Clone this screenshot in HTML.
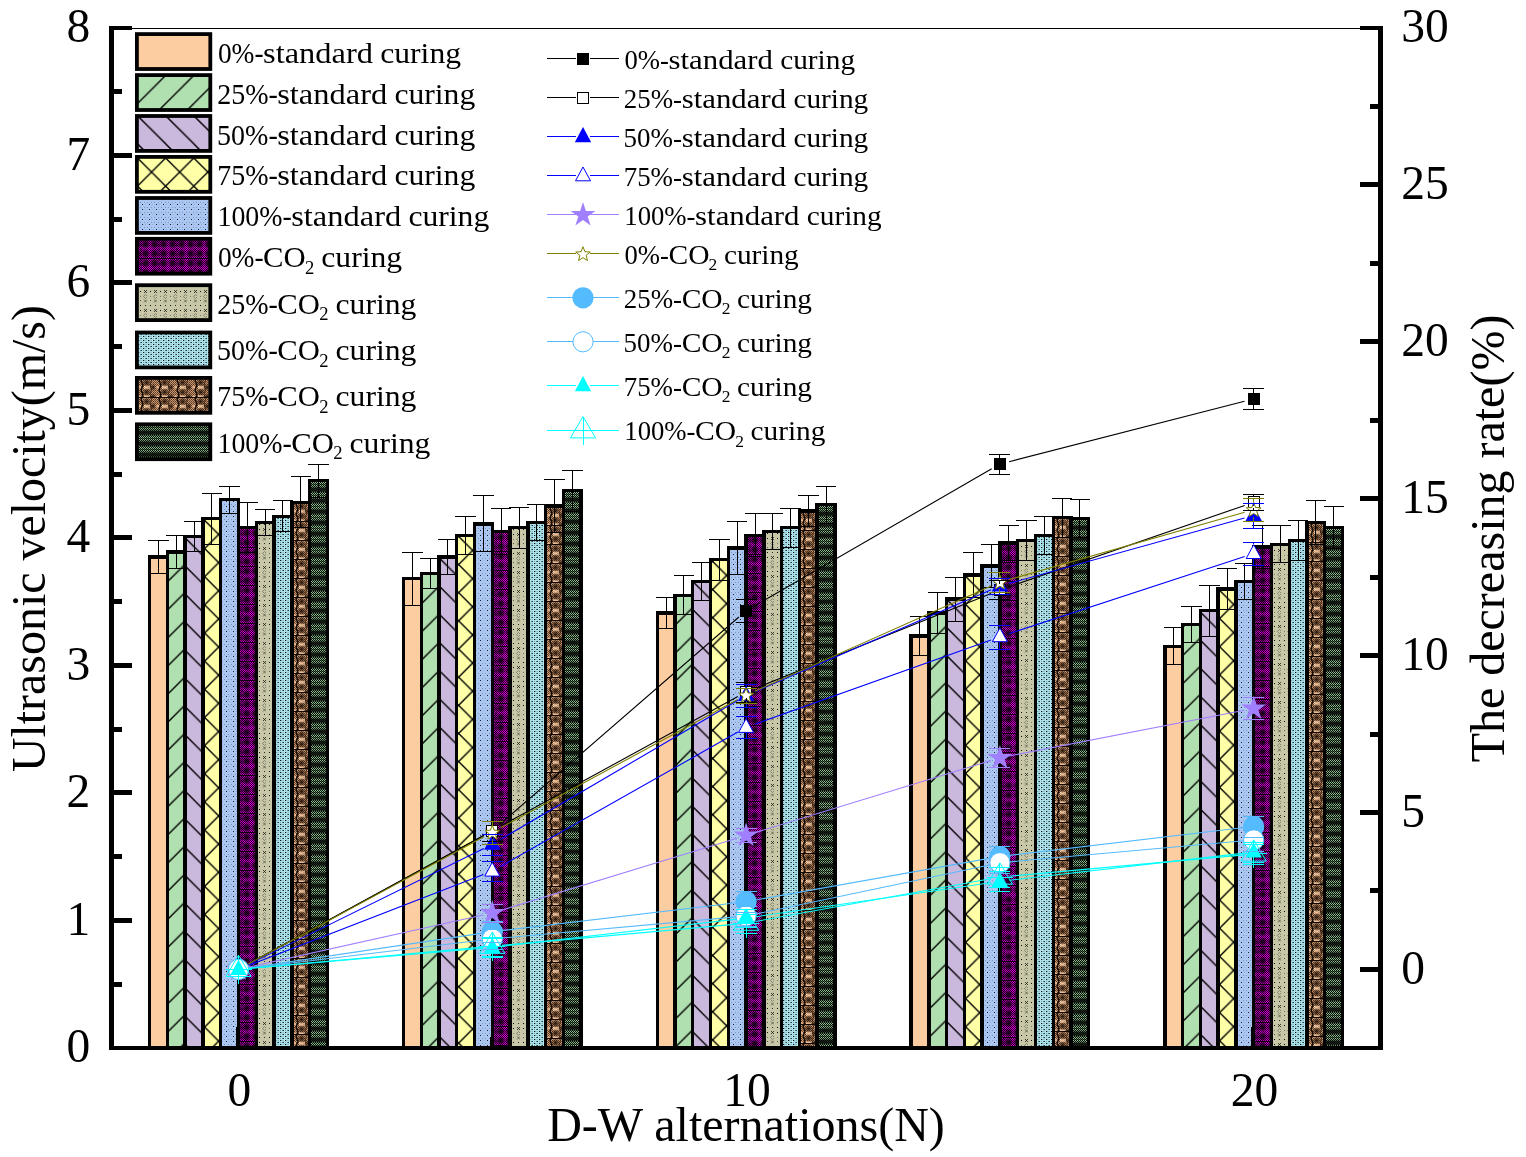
<!DOCTYPE html>
<html lang="en"><head><meta charset="utf-8"><title>Ultrasonic velocity and decreasing rate vs D-W alternations</title>
<style>html,body{margin:0;padding:0;background:#fff}body{width:1526px;height:1157px;overflow:hidden}svg{display:block}text{font-family:'Liberation Serif', 'DejaVu Serif', serif;fill:#000}</style>
</head><body>
<svg width="1526" height="1157" viewBox="0 0 1526 1157">
<defs>
<pattern id="p1" width="28.15" height="28.15" patternUnits="userSpaceOnUse"><rect width="28.15" height="28.15" fill="#B0E0B0"/><path d="M-28.15 2.10L56.30 -82.35M-28.15 30.25L56.30 -54.20M-28.15 58.40L56.30 -26.05M-28.15 86.55L56.30 2.10" stroke="#000" stroke-width="1.4" fill="none"/></pattern>
<pattern id="p2" width="28.15" height="28.15" patternUnits="userSpaceOnUse"><rect width="28.15" height="28.15" fill="#CBB9DD"/><path d="M-28.15 -83.75L56.30 0.70M-28.15 -55.60L56.30 28.85M-28.15 -27.45L56.30 57.00M-28.15 0.70L56.30 85.15" stroke="#000" stroke-width="1.4" fill="none"/></pattern>
<pattern id="p3" width="28.15" height="28.15" patternUnits="userSpaceOnUse"><rect width="28.15" height="28.15" fill="#FFFFA8"/><path d="M-28.15 3.00L56.30 -81.45M-28.15 31.15L56.30 -53.30M-28.15 59.30L56.30 -25.15M-28.15 87.45L56.30 3.00M-28.15 -84.65L56.30 -0.20M-28.15 -56.50L56.30 27.95M-28.15 -28.35L56.30 56.10M-28.15 -0.20L56.30 84.25" stroke="#000" stroke-width="1.4" fill="none"/></pattern>
<pattern id="p1L" width="28.15" height="28.15" patternUnits="userSpaceOnUse"><rect width="28.15" height="28.15" fill="#B0E0B0"/><path d="M-28.15 0.90L56.30 -83.55M-28.15 29.05L56.30 -55.40M-28.15 57.20L56.30 -27.25M-28.15 85.35L56.30 0.90" stroke="#000" stroke-width="1.4" fill="none"/></pattern>
<pattern id="p2L" width="28.15" height="28.15" patternUnits="userSpaceOnUse"><rect width="28.15" height="28.15" fill="#CBB9DD"/><path d="M-28.15 -85.30L56.30 -0.85M-28.15 -57.15L56.30 27.30M-28.15 -29.00L56.30 55.45M-28.15 -0.85L56.30 83.60" stroke="#000" stroke-width="1.4" fill="none"/></pattern>
<pattern id="p3L" width="28.15" height="28.15" patternUnits="userSpaceOnUse"><rect width="28.15" height="28.15" fill="#FFFFA8"/><path d="M-28.15 1.45L56.30 -83.00M-28.15 29.60L56.30 -54.85M-28.15 57.75L56.30 -26.70M-28.15 85.90L56.30 1.45M-28.15 -83.95L56.30 0.50M-28.15 -55.80L56.30 28.65M-28.15 -27.65L56.30 56.80M-28.15 0.50L56.30 84.95" stroke="#000" stroke-width="1.4" fill="none"/></pattern>
<radialGradient id="gm"><stop offset="0" stop-color="#100010" stop-opacity="1"/><stop offset="0.5" stop-color="#100010" stop-opacity="0.7"/><stop offset="1" stop-color="#100010" stop-opacity="0"/></radialGradient>
<radialGradient id="gb"><stop offset="0" stop-color="#1c0e04" stop-opacity="0.95"/><stop offset="0.5" stop-color="#1c0e04" stop-opacity="0.4"/><stop offset="1" stop-color="#1c0e04" stop-opacity="0"/></radialGradient>
<pattern id="cm" width="2" height="2" patternUnits="userSpaceOnUse" shape-rendering="crispEdges"><rect x="0" y="0" width="2" height="2" fill="#CC00CC"/><rect x="0" y="0" width="1" height="1" fill="#380038"/><rect x="1" y="1" width="1" height="1" fill="#380038"/></pattern>
<pattern id="cg" width="2" height="2" patternUnits="userSpaceOnUse" shape-rendering="crispEdges"><rect x="0" y="0" width="2" height="2" fill="#040804"/><rect x="0" y="0" width="1" height="1" fill="#8CC08C"/><rect x="1" y="1" width="1" height="1" fill="#8CC08C"/></pattern>
<pattern id="cb" width="2" height="2" patternUnits="userSpaceOnUse" shape-rendering="crispEdges"><rect x="0" y="0" width="2" height="2" fill="#CC9872"/><rect x="0" y="0" width="1" height="1" fill="#54361f"/><rect x="1" y="1" width="1" height="1" fill="#6e4e36"/></pattern>
<pattern id="p4" width="7" height="10" patternUnits="userSpaceOnUse" shape-rendering="crispEdges"><rect x="0" y="0" width="7" height="10" fill="#ABC7F1"/><rect x="5" y="1" width="1" height="1" fill="#182030"/><rect x="5" y="6" width="1" height="1" fill="#182030"/><rect x="3" y="4" width="1" height="1" fill="#7f97bd"/><rect x="0" y="4" width="1" height="1" fill="#7f97bd"/><rect x="3" y="9" width="1" height="1" fill="#7f97bd"/><rect x="0" y="9" width="1" height="1" fill="#7f97bd"/><rect x="1" y="1" width="1" height="1" fill="#96aed6"/><rect x="1" y="6" width="1" height="1" fill="#96aed6"/></pattern>
<pattern id="p5" width="18" height="19" patternUnits="userSpaceOnUse"><rect x="0" y="0" width="18" height="19" fill="url(#cm)"/><circle cx="8.6" cy="5.2" r="4.8" fill="url(#gm)"/><circle cx="17.6" cy="5.2" r="4.8" fill="url(#gm)"/><circle cx="-0.4" cy="5.2" r="4.8" fill="url(#gm)"/><circle cx="8.6" cy="14.6" r="4.8" fill="url(#gm)"/><circle cx="17.6" cy="14.6" r="4.8" fill="url(#gm)"/><circle cx="-0.4" cy="14.6" r="4.8" fill="url(#gm)"/><path d="M0 0.5H18" stroke="#0c000c" stroke-width="1"/><path d="M4 0V19" stroke="#0c000c" stroke-width="1" stroke-dasharray="3.2 1.5"/></pattern>
<pattern id="p6" width="10" height="19" patternUnits="userSpaceOnUse"><rect x="0" y="0" width="10" height="19" fill="#C8C8A8"/><rect x="3" y="1" width="1" height="1" fill="#0c0c08"/><rect x="8" y="1" width="1" height="1" fill="#2a2a22"/><rect x="3" y="6" width="1" height="1" fill="#0c0c08"/><path d="M7 5l3 3m0-3l-3 3" stroke="#1c1c14" stroke-width="0.8" fill="none"/><rect x="3" y="11" width="1" height="1" fill="#77776a"/><path d="M6.5 11.5l2-2l2 2l-2 2z" stroke="#5a5a4c" stroke-width="0.6" fill="none"/><rect x="3" y="15" width="1" height="1" fill="#55554a"/><path d="M7 14.5l3 3m0-3l-3 3" stroke="#44443a" stroke-width="0.7" fill="none"/></pattern>
<pattern id="p7" width="5" height="4" patternUnits="userSpaceOnUse"><rect x="0" y="0" width="5" height="4" fill="#B4EEF8"/><rect x="1" y="0" width="1.3" height="1" fill="#020a0c"/><rect x="3.5" y="2" width="1.3" height="1" fill="#020a0c"/><rect x="3.6" y="0" width="1" height="1" fill="#6f9aa2"/><rect x="1.1" y="2" width="1" height="1" fill="#6f9aa2"/><rect x="0" y="1" width="5" height="0.5" fill="#9fd2db"/><rect x="0" y="3" width="5" height="0.5" fill="#9fd2db"/></pattern>
<pattern id="p8" width="18" height="19" patternUnits="userSpaceOnUse"><rect x="0" y="0" width="18" height="19" fill="url(#cb)"/><circle cx="9.6" cy="9.3" r="1.9" fill="#EDBE96"/><circle cx="9.6" cy="4.6" r="4.7" fill="url(#gb)"/><circle cx="16" cy="9.3" r="3.8" fill="url(#gb)"/><circle cx="3" cy="9.3" r="1.4" fill="#E8B990"/><rect x="7" y="7.8999999999999995" width="1.1" height="1.1" fill="#FFE0BC"/><rect x="11.6" y="7.8999999999999995" width="1.1" height="1.1" fill="#FFE0BC"/><rect x="7" y="0.1999999999999993" width="1.1" height="1.1" fill="#FFE0BC"/><rect x="11.6" y="0.1999999999999993" width="1.1" height="1.1" fill="#FFE0BC"/><circle cx="9.6" cy="18.8" r="1.9" fill="#EDBE96"/><circle cx="9.6" cy="14.1" r="4.7" fill="url(#gb)"/><circle cx="16" cy="18.8" r="3.8" fill="url(#gb)"/><circle cx="3" cy="18.8" r="1.4" fill="#E8B990"/><rect x="7" y="17.4" width="1.1" height="1.1" fill="#FFE0BC"/><rect x="11.6" y="17.4" width="1.1" height="1.1" fill="#FFE0BC"/><rect x="7" y="9.7" width="1.1" height="1.1" fill="#FFE0BC"/><rect x="11.6" y="9.7" width="1.1" height="1.1" fill="#FFE0BC"/><path d="M5 0q-1.6 2.4 0 4.75t0 4.75t0 4.75t0 4.75" stroke="#140a02" stroke-width="1.5" fill="none"/><path d="M13.8 0q1.4 2.4 0 4.75t0 4.75t0 4.75t0 4.75" stroke="#2e1a0c" stroke-width="1" fill="none" opacity="0.85"/><path d="M0 0.5H18" stroke="#120802" stroke-width="1"/></pattern>
<pattern id="p9" width="2" height="11" patternUnits="userSpaceOnUse"><rect x="0" y="0" width="2" height="11" fill="url(#cg)"/><rect x="0" y="0" width="2" height="1" fill="#000" opacity="0.35"/><rect x="0" y="3" width="2" height="1" fill="#000" opacity="0.45"/><rect x="0" y="5.6" width="2" height="1" fill="#000" opacity="0.5"/><rect x="0" y="6.8" width="2" height="4.0" fill="#000" opacity="0.78"/></pattern>
</defs>
<rect width="1526" height="1157" fill="#fff"/>
<g id="bars">
<g stroke="#000" stroke-width="3.4" fill="#FCCDA0" shape-rendering="crispEdges">
<rect transform="translate(150 557)" x="-0.35" y="0.02" width="17.77" height="490.78"/>
<rect transform="translate(403 579)" x="0.45" y="-0.31" width="17.77" height="469.11"/>
<rect transform="translate(657 613)" x="0.25" y="0.11" width="17.77" height="434.69"/>
<rect transform="translate(911 636)" x="0.05" y="0.06" width="17.77" height="411.74"/>
<rect transform="translate(1165 646)" x="-0.15" y="0.25" width="17.77" height="401.55"/>
</g>
<path d="M158.5 540.3V573.7M148.3 540.3H168.7M148.3 573.7H168.7M412.3 552.4V605.0M402.1 552.4H422.5M402.1 605.0H422.5M666.1 597.6V628.7M655.9 597.6H676.3M655.9 628.7H676.3M919.9 616.4V655.7M909.7 616.4H930.1M909.7 655.7H930.1M1173.7 627.8V664.7M1163.5 627.8H1183.9M1163.5 664.7H1183.9" fill="none" stroke="#000" stroke-width="1" shape-rendering="crispEdges"/>
<g stroke="#000" stroke-width="3.4" fill="url(#p1)" shape-rendering="crispEdges">
<rect transform="translate(167 552)" x="0.42" y="-0.08" width="17.77" height="495.88"/>
<rect transform="translate(421 574)" x="0.22" y="-0.41" width="17.77" height="474.21"/>
<rect transform="translate(675 595)" x="0.02" y="0.26" width="17.77" height="452.54"/>
<rect transform="translate(929 613)" x="-0.18" y="0.11" width="17.77" height="434.69"/>
<rect transform="translate(1183 625)" x="-0.38" y="-0.42" width="17.77" height="423.22"/>
</g>
<path d="M176.3 535.6V568.2M166.1 535.6H186.5M166.1 568.2H186.5M430.1 558.9V588.3M419.9 558.9H440.3M419.9 588.3H440.3M683.9 575.9V614.6M673.7 575.9H694.1M673.7 614.6H694.1M937.7 592.3V633.9M927.5 592.3H947.9M927.5 633.9H947.9M1191.5 606.4V642.8M1181.3 606.4H1201.7M1181.3 642.8H1201.7" fill="none" stroke="#000" stroke-width="1" shape-rendering="crispEdges"/>
<g stroke="#000" stroke-width="3.4" fill="url(#p2)" shape-rendering="crispEdges">
<rect transform="translate(185 537)" x="0.19" y="-0.37" width="17.77" height="511.17"/>
<rect transform="translate(439 557)" x="-0.01" y="0.02" width="17.77" height="490.78"/>
<rect transform="translate(693 581)" x="-0.21" y="0.24" width="17.77" height="466.56"/>
<rect transform="translate(947 599)" x="-0.41" y="0.09" width="17.77" height="448.71"/>
<rect transform="translate(1200 611)" x="0.39" y="-0.44" width="17.77" height="437.24"/>
</g>
<path d="M194.1 521.7V551.5M183.9 521.7H204.3M183.9 551.5H204.3M447.9 539.7V574.4M437.7 539.7H458.1M437.7 574.4H458.1M701.7 562.5V600.0M691.5 562.5H711.9M691.5 600.0H711.9M955.5 577.2V621.0M945.3 577.2H965.7M945.3 621.0H965.7M1209.3 585.1V636.1M1199.1 585.1H1219.5M1199.1 636.1H1219.5" fill="none" stroke="#000" stroke-width="1" shape-rendering="crispEdges"/>
<g stroke="#000" stroke-width="3.4" fill="url(#p3)" shape-rendering="crispEdges">
<rect transform="translate(203 519)" x="-0.04" y="-0.22" width="17.77" height="529.02"/>
<rect transform="translate(457 535)" x="-0.24" y="0.35" width="17.77" height="512.45"/>
<rect transform="translate(711 560)" x="-0.44" y="-0.43" width="17.77" height="488.23"/>
<rect transform="translate(964 575)" x="0.36" y="-0.13" width="17.77" height="472.93"/>
<rect transform="translate(1218 589)" x="0.16" y="-0.11" width="17.77" height="458.91"/>
</g>
<path d="M211.8 493.3V544.3M201.6 493.3H222.0M201.6 544.3H222.0M465.6 516.2V554.5M455.4 516.2H475.8M455.4 554.5H475.8M719.4 539.2V580.0M709.2 539.2H729.6M709.2 580.0H729.6M973.2 552.4V597.3M963.0 552.4H983.4M963.0 597.3H983.4M1227.0 568.5V609.3M1216.8 568.5H1237.2M1216.8 609.3H1237.2" fill="none" stroke="#000" stroke-width="1" shape-rendering="crispEdges"/>
<g stroke="#000" stroke-width="3.4" fill="url(#p4)" shape-rendering="crispEdges">
<rect transform="translate(221 500)" x="-0.27" y="-0.34" width="17.77" height="548.14"/>
<rect transform="translate(475 524)" x="-0.47" y="-0.12" width="17.77" height="523.92"/>
<rect transform="translate(728 548)" x="0.33" y="0.10" width="17.77" height="499.70"/>
<rect transform="translate(982 566)" x="0.13" y="-0.06" width="17.77" height="481.86"/>
<rect transform="translate(1236 581)" x="-0.07" y="0.24" width="17.77" height="466.56"/>
</g>
<path d="M229.6 486.1V513.2M219.4 486.1H239.8M219.4 513.2H239.8M483.4 495.8V551.9M473.2 495.8H493.6M473.2 551.9H493.6M737.2 521.8V574.4M727.0 521.8H747.4M727.0 574.4H747.4M991.0 544.5V587.4M980.8 544.5H1001.2M980.8 587.4H1001.2M1244.8 563.0V599.5M1234.6 563.0H1255.0M1234.6 599.5H1255.0" fill="none" stroke="#000" stroke-width="1" shape-rendering="crispEdges"/>
<g stroke="#000" stroke-width="3.4" fill="url(#p5)" shape-rendering="crispEdges">
<rect transform="translate(238 528)" x="0.50" y="-0.30" width="17.77" height="520.10"/>
<rect transform="translate(492 532)" x="0.30" y="-0.47" width="17.77" height="516.27"/>
<rect transform="translate(746 535)" x="0.10" y="0.35" width="17.77" height="512.45"/>
<rect transform="translate(1000 543)" x="-0.10" y="-0.00" width="17.77" height="504.80"/>
<rect transform="translate(1254 547)" x="-0.30" y="-0.18" width="17.77" height="500.98"/>
</g>
<path d="M247.4 502.5V552.9M237.2 502.5H257.6M237.2 552.9H257.6M501.2 508.6V554.5M491.0 508.6H511.4M491.0 554.5H511.4M755.0 513.8V556.9M744.8 513.8H765.2M744.8 556.9H765.2M1008.8 525.7V560.3M998.6 525.7H1019.0M998.6 560.3H1019.0M1262.6 525.3V568.4M1252.4 525.3H1272.8M1252.4 568.4H1272.8" fill="none" stroke="#000" stroke-width="1" shape-rendering="crispEdges"/>
<g stroke="#000" stroke-width="3.4" fill="url(#p6)" shape-rendering="crispEdges">
<rect transform="translate(256 523)" x="0.27" y="-0.40" width="17.77" height="525.20"/>
<rect transform="translate(510 528)" x="0.07" y="-0.30" width="17.77" height="520.10"/>
<rect transform="translate(764 532)" x="-0.13" y="-0.47" width="17.77" height="516.27"/>
<rect transform="translate(1018 540)" x="-0.33" y="0.45" width="17.77" height="507.35"/>
<rect transform="translate(1271 544)" x="0.47" y="0.27" width="17.77" height="503.53"/>
</g>
<path d="M265.2 509.3V535.9M255.0 509.3H275.4M255.0 535.9H275.4M519.0 507.3V548.1M508.8 507.3H529.2M508.8 548.1H529.2M772.8 513.2V549.9M762.6 513.2H783.0M762.6 549.9H783.0M1026.6 520.1V560.8M1016.4 520.1H1036.8M1016.4 560.8H1036.8M1280.4 525.8V562.8M1270.2 525.8H1290.6M1270.2 562.8H1290.6" fill="none" stroke="#000" stroke-width="1" shape-rendering="crispEdges"/>
<g stroke="#000" stroke-width="3.4" fill="url(#p7)" shape-rendering="crispEdges">
<rect transform="translate(274 516)" x="0.04" y="0.23" width="17.77" height="531.57"/>
<rect transform="translate(528 523)" x="-0.16" y="-0.40" width="17.77" height="525.20"/>
<rect transform="translate(782 528)" x="-0.36" y="-0.30" width="17.77" height="520.10"/>
<rect transform="translate(1035 535)" x="0.44" y="0.35" width="17.77" height="512.45"/>
<rect transform="translate(1289 540)" x="0.24" y="0.45" width="17.77" height="507.35"/>
</g>
<path d="M282.9 500.9V531.5M272.7 500.9H293.1M272.7 531.5H293.1M536.7 504.4V540.8M526.5 504.4H546.9M526.5 540.8H546.9M790.5 508.5V547.0M780.3 508.5H800.7M780.3 547.0H800.7M1044.3 516.6V554.1M1034.1 516.6H1054.5M1034.1 554.1H1054.5M1298.1 520.1V560.8M1287.9 520.1H1308.3M1287.9 560.8H1308.3" fill="none" stroke="#000" stroke-width="1" shape-rendering="crispEdges"/>
<g stroke="#000" stroke-width="3.4" fill="url(#p8)" shape-rendering="crispEdges">
<rect transform="translate(292 502)" x="-0.19" y="0.21" width="17.77" height="545.59"/>
<rect transform="translate(546 506)" x="-0.39" y="0.03" width="17.77" height="541.77"/>
<rect transform="translate(799 511)" x="0.41" y="0.13" width="17.77" height="536.67"/>
<rect transform="translate(1053 518)" x="0.21" y="-0.50" width="17.77" height="530.30"/>
<rect transform="translate(1307 523)" x="0.01" y="-0.40" width="17.77" height="525.20"/>
</g>
<path d="M300.7 476.7V527.7M290.5 476.7H310.9M290.5 527.7H310.9M554.5 479.6V532.4M544.3 479.6H564.7M544.3 532.4H564.7M808.3 495.7V526.6M798.1 495.7H818.5M798.1 526.6H818.5M1062.1 498.0V537.0M1051.9 498.0H1072.3M1051.9 537.0H1072.3M1315.9 500.9V544.3M1305.7 500.9H1326.1M1305.7 544.3H1326.1" fill="none" stroke="#000" stroke-width="1" shape-rendering="crispEdges"/>
<g stroke="#000" stroke-width="3.4" fill="url(#p9)" shape-rendering="crispEdges">
<rect transform="translate(310 481)" x="-0.42" y="-0.46" width="17.77" height="567.26"/>
<rect transform="translate(563 491)" x="0.38" y="-0.27" width="17.77" height="557.07"/>
<rect transform="translate(817 505)" x="0.18" y="-0.24" width="17.77" height="543.04"/>
<rect transform="translate(1071 519)" x="-0.02" y="-0.22" width="17.77" height="529.02"/>
<rect transform="translate(1325 528)" x="-0.22" y="-0.30" width="17.77" height="520.10"/>
</g>
<path d="M318.5 464.0V497.1M308.3 464.0H328.7M308.3 497.1H328.7M572.3 470.1V511.4M562.1 470.1H582.5M562.1 511.4H582.5M826.1 486.0V523.5M815.9 486.0H836.3M815.9 523.5H836.3M1079.9 499.7V537.9M1069.7 499.7H1090.1M1069.7 537.9H1090.1M1333.7 506.5V548.9M1323.5 506.5H1343.9M1323.5 548.9H1343.9" fill="none" stroke="#000" stroke-width="1" shape-rendering="crispEdges"/>
</g>
<g id="axes" fill="#000" shape-rendering="crispEdges">
<rect x="114" y="28" width="1264" height="1"/>
<rect x="109" y="26" width="5" height="1024"/>
<rect x="1378" y="26" width="5" height="1024"/>
<rect x="109" y="1046" width="1274" height="4"/>
<rect x="236" y="1027" width="4" height="23"/>
<rect x="490" y="1037" width="4" height="13"/>
<rect x="744" y="1027" width="4" height="23"/>
<rect x="998" y="1037" width="4" height="13"/>
<rect x="1251" y="1027" width="4" height="23"/>
<rect x="109" y="982" width="13" height="5"/>
<rect x="109" y="918" width="23" height="5"/>
<rect x="109" y="854" width="13" height="5"/>
<rect x="109" y="790" width="23" height="5"/>
<rect x="109" y="727" width="13" height="5"/>
<rect x="109" y="663" width="23" height="5"/>
<rect x="109" y="599" width="13" height="5"/>
<rect x="109" y="535" width="23" height="5"/>
<rect x="109" y="472" width="13" height="5"/>
<rect x="109" y="408" width="23" height="5"/>
<rect x="109" y="344" width="13" height="5"/>
<rect x="109" y="280" width="23" height="5"/>
<rect x="109" y="217" width="13" height="5"/>
<rect x="109" y="153" width="23" height="5"/>
<rect x="109" y="89" width="13" height="5"/>
<rect x="109" y="26" width="23" height="4"/>
<rect x="1360" y="967" width="23" height="5"/>
<rect x="1370" y="888" width="13" height="5"/>
<rect x="1360" y="810" width="23" height="5"/>
<rect x="1370" y="732" width="13" height="5"/>
<rect x="1360" y="653" width="23" height="5"/>
<rect x="1370" y="575" width="13" height="5"/>
<rect x="1360" y="496" width="23" height="5"/>
<rect x="1370" y="418" width="13" height="5"/>
<rect x="1360" y="339" width="23" height="5"/>
<rect x="1370" y="261" width="13" height="5"/>
<rect x="1360" y="182" width="23" height="5"/>
<rect x="1370" y="104" width="13" height="5"/>
<rect x="1360" y="26" width="23" height="4"/>
</g>
<g id="ticklabels" font-size="47.5">
<text x="90.2" y="1062.1" text-anchor="end">0</text>
<text x="90.2" y="934.6" text-anchor="end">1</text>
<text x="90.2" y="807.1" text-anchor="end">2</text>
<text x="90.2" y="679.7" text-anchor="end">3</text>
<text x="90.2" y="552.2" text-anchor="end">4</text>
<text x="90.2" y="424.7" text-anchor="end">5</text>
<text x="90.2" y="297.3" text-anchor="end">6</text>
<text x="90.2" y="169.8" text-anchor="end">7</text>
<text x="90.2" y="42.3" text-anchor="end">8</text>
<text x="1401.2" y="983.7">0</text>
<text x="1401.2" y="826.8">5</text>
<text x="1401.2" y="669.9">10</text>
<text x="1401.2" y="513.0">15</text>
<text x="1401.2" y="356.1">20</text>
<text x="1401.2" y="199.2">25</text>
<text x="1401.2" y="42.3">30</text>
<text x="239.3" y="1106" text-anchor="middle">0</text>
<text x="746.9" y="1106" text-anchor="middle">10</text>
<text x="1254.5" y="1106" text-anchor="middle">20</text>
</g>
<g id="titles" font-size="48" text-anchor="middle">
<text x="746" y="1140.5">D-W alternations(N)</text>
<text transform="translate(45 538.6) rotate(-90)" textLength="467" lengthAdjust="spacingAndGlyphs">Ultrasonic velocity(m/s)</text>
<text transform="translate(1503.7 538.5) rotate(-90)">The decreasing rate(%)</text>
</g>
<g id="barlegend">
<rect transform="translate(137 34)" x="-0.1" y="0.10" width="73.4" height="34.9" fill="#FCCDA0" stroke="#000" stroke-width="3.8"/>
<rect transform="translate(137 75)" x="-0.1" y="0.10" width="73.4" height="34.9" fill="url(#p1L)" stroke="#000" stroke-width="3.8"/>
<rect transform="translate(137 116)" x="-0.1" y="0.00" width="73.4" height="34.9" fill="url(#p2L)" stroke="#000" stroke-width="3.8"/>
<rect transform="translate(137 157)" x="-0.1" y="-0.10" width="73.4" height="34.9" fill="url(#p3L)" stroke="#000" stroke-width="3.8"/>
<rect transform="translate(137 198)" x="-0.1" y="0.00" width="73.4" height="34.9" fill="url(#p4)" stroke="#000" stroke-width="3.8"/>
<rect transform="translate(137 239)" x="-0.1" y="-0.20" width="73.4" height="34.9" fill="url(#p5)" stroke="#000" stroke-width="3.8"/>
<rect transform="translate(137 285)" x="-0.1" y="0.20" width="73.4" height="34.9" fill="url(#p6)" stroke="#000" stroke-width="3.8"/>
<rect transform="translate(137 332)" x="-0.1" y="0.50" width="73.4" height="34.9" fill="url(#p7)" stroke="#000" stroke-width="3.8"/>
<rect transform="translate(137 378)" x="-0.1" y="-0.10" width="73.4" height="34.9" fill="url(#p8)" stroke="#000" stroke-width="3.8"/>
<rect transform="translate(137 424)" x="-0.1" y="0.30" width="73.4" height="34.9" fill="url(#p9)" stroke="#000" stroke-width="3.8"/>
<text y="63.0" font-size="29"><tspan x="217.9" textLength="45.7" lengthAdjust="spacingAndGlyphs">0%-</tspan><tspan x="263.0" textLength="110.0" lengthAdjust="spacingAndGlyphs">standard</tspan> <tspan x="380.2" textLength="80.9" lengthAdjust="spacingAndGlyphs">curing</tspan></text>
<text y="103.8" font-size="29"><tspan x="217.2" textLength="60.6" lengthAdjust="spacingAndGlyphs">25%-</tspan><tspan x="277.2" textLength="110.0" lengthAdjust="spacingAndGlyphs">standard</tspan> <tspan x="394.4" textLength="80.9" lengthAdjust="spacingAndGlyphs">curing</tspan></text>
<text y="144.6" font-size="29"><tspan x="217.1" textLength="60.7" lengthAdjust="spacingAndGlyphs">50%-</tspan><tspan x="277.2" textLength="110.0" lengthAdjust="spacingAndGlyphs">standard</tspan> <tspan x="394.4" textLength="80.9" lengthAdjust="spacingAndGlyphs">curing</tspan></text>
<text y="185.3" font-size="29"><tspan x="217.2" textLength="60.6" lengthAdjust="spacingAndGlyphs">75%-</tspan><tspan x="277.2" textLength="110.0" lengthAdjust="spacingAndGlyphs">standard</tspan> <tspan x="394.4" textLength="80.9" lengthAdjust="spacingAndGlyphs">curing</tspan></text>
<text y="226.1" font-size="29"><tspan x="217.5" textLength="74.3" lengthAdjust="spacingAndGlyphs">100%-</tspan><tspan x="291.2" textLength="110.0" lengthAdjust="spacingAndGlyphs">standard</tspan> <tspan x="408.4" textLength="80.9" lengthAdjust="spacingAndGlyphs">curing</tspan></text>
<text y="267.1" font-size="29"><tspan x="217.9" textLength="45.7" lengthAdjust="spacingAndGlyphs">0%-</tspan><tspan x="263.1" textLength="42.6" lengthAdjust="spacingAndGlyphs">CO</tspan><tspan x="305.1" dy="6.5" font-size="18.6">2</tspan><tspan dy="-6.5"> </tspan><tspan x="321.3" textLength="80.9" lengthAdjust="spacingAndGlyphs">curing</tspan></text>
<text y="313.5" font-size="29"><tspan x="217.2" textLength="60.6" lengthAdjust="spacingAndGlyphs">25%-</tspan><tspan x="277.3" textLength="42.6" lengthAdjust="spacingAndGlyphs">CO</tspan><tspan x="319.3" dy="6.5" font-size="18.6">2</tspan><tspan dy="-6.5"> </tspan><tspan x="335.5" textLength="80.9" lengthAdjust="spacingAndGlyphs">curing</tspan></text>
<text y="360.0" font-size="29"><tspan x="217.1" textLength="60.7" lengthAdjust="spacingAndGlyphs">50%-</tspan><tspan x="277.3" textLength="42.6" lengthAdjust="spacingAndGlyphs">CO</tspan><tspan x="319.3" dy="6.5" font-size="18.6">2</tspan><tspan dy="-6.5"> </tspan><tspan x="335.5" textLength="80.9" lengthAdjust="spacingAndGlyphs">curing</tspan></text>
<text y="406.4" font-size="29"><tspan x="217.2" textLength="60.6" lengthAdjust="spacingAndGlyphs">75%-</tspan><tspan x="277.3" textLength="42.6" lengthAdjust="spacingAndGlyphs">CO</tspan><tspan x="319.3" dy="6.5" font-size="18.6">2</tspan><tspan dy="-6.5"> </tspan><tspan x="335.5" textLength="80.9" lengthAdjust="spacingAndGlyphs">curing</tspan></text>
<text y="452.9" font-size="29"><tspan x="217.5" textLength="74.3" lengthAdjust="spacingAndGlyphs">100%-</tspan><tspan x="291.3" textLength="42.6" lengthAdjust="spacingAndGlyphs">CO</tspan><tspan x="333.3" dy="6.5" font-size="18.6">2</tspan><tspan dy="-6.5"> </tspan><tspan x="349.5" textLength="80.9" lengthAdjust="spacingAndGlyphs">curing</tspan></text>
</g>
<g id="linelegend">
<path d="M547 58.5H576M590 58.5H619" stroke="#000000" stroke-width="1" fill="none" shape-rendering="crispEdges"/>
<rect x="577" y="53" width="12" height="12" fill="#000000" shape-rendering="crispEdges"/>
<text y="69.3" font-size="27.3"><tspan x="624.5" textLength="44.4" lengthAdjust="spacingAndGlyphs">0%-</tspan><tspan x="668.5" textLength="104.4" lengthAdjust="spacingAndGlyphs">standard</tspan> <tspan x="780.2" textLength="74.9" lengthAdjust="spacingAndGlyphs">curing</tspan></text>
<path d="M547 97.5H576M590 97.5H619" stroke="#000000" stroke-width="1" fill="none" shape-rendering="crispEdges"/>
<rect x="577.5" y="92.5" width="11" height="11" fill="#fff" stroke="#000000" stroke-width="1" shape-rendering="crispEdges"/>
<text y="108.2" font-size="27.3"><tspan x="623.8" textLength="58.3" lengthAdjust="spacingAndGlyphs">25%-</tspan><tspan x="681.7" textLength="104.4" lengthAdjust="spacingAndGlyphs">standard</tspan> <tspan x="793.4" textLength="74.9" lengthAdjust="spacingAndGlyphs">curing</tspan></text>
<path d="M547 136.5H576M590 136.5H619" stroke="#0000FF" stroke-width="1" fill="none" shape-rendering="crispEdges"/>
<polygon points="583.0,127.1 591.2,142.3 574.8,142.3" fill="#0000FF"/>
<text y="147.2" font-size="27.3"><tspan x="623.6" textLength="58.4" lengthAdjust="spacingAndGlyphs">50%-</tspan><tspan x="681.7" textLength="104.4" lengthAdjust="spacingAndGlyphs">standard</tspan> <tspan x="793.4" textLength="74.9" lengthAdjust="spacingAndGlyphs">curing</tspan></text>
<path d="M547 175.5H576M590 175.5H619" stroke="#0000FF" stroke-width="1" fill="none" shape-rendering="crispEdges"/>
<polygon points="583.0,167.0 590.5,180.8 575.5,180.8" fill="#fff" stroke="#0000FF" stroke-width="1"/>
<text y="186.1" font-size="27.3"><tspan x="623.7" textLength="58.3" lengthAdjust="spacingAndGlyphs">75%-</tspan><tspan x="681.7" textLength="104.4" lengthAdjust="spacingAndGlyphs">standard</tspan> <tspan x="793.4" textLength="74.9" lengthAdjust="spacingAndGlyphs">curing</tspan></text>
<path d="M547 214.5H576M590 214.5H619" stroke="#A080FF" stroke-width="1" fill="none" shape-rendering="crispEdges"/>
<polygon points="583.0,201.9 585.9,210.9 595.4,210.9 587.7,216.4 590.6,225.4 583.0,219.9 575.4,225.4 578.3,216.4 570.6,210.9 580.1,210.9" fill="#A080FF"/>
<text y="225.0" font-size="27.3"><tspan x="624.3" textLength="71.2" lengthAdjust="spacingAndGlyphs">100%-</tspan><tspan x="695.1" textLength="104.4" lengthAdjust="spacingAndGlyphs">standard</tspan> <tspan x="806.8" textLength="74.9" lengthAdjust="spacingAndGlyphs">curing</tspan></text>
<path d="M547 253.5H576M590 253.5H619" stroke="#808000" stroke-width="1" fill="none" shape-rendering="crispEdges"/>
<polygon points="583.0,246.7 584.9,251.7 590.3,252.0 586.1,255.4 587.5,260.6 583.0,257.7 578.5,260.6 579.9,255.4 575.7,252.0 581.1,251.7" fill="#fff" stroke="#808000" stroke-width="1"/>
<text y="263.8" font-size="27.3"><tspan x="624.5" textLength="44.4" lengthAdjust="spacingAndGlyphs">0%-</tspan><tspan x="668.5" textLength="41.0" lengthAdjust="spacingAndGlyphs">CO</tspan><tspan x="708.6" dy="6.5" font-size="17.5">2</tspan><tspan dy="-6.5"> </tspan><tspan x="723.9" textLength="74.9" lengthAdjust="spacingAndGlyphs">curing</tspan></text>
<path d="M547 297.5H576M590 297.5H619" stroke="#55BBFF" stroke-width="1" fill="none" shape-rendering="crispEdges"/>
<circle cx="583.0" cy="297.8" r="10.6" fill="#55BBFF"/>
<text y="307.9" font-size="27.3"><tspan x="623.8" textLength="58.3" lengthAdjust="spacingAndGlyphs">25%-</tspan><tspan x="681.7" textLength="41.0" lengthAdjust="spacingAndGlyphs">CO</tspan><tspan x="721.8" dy="6.5" font-size="17.5">2</tspan><tspan dy="-6.5"> </tspan><tspan x="737.1" textLength="74.9" lengthAdjust="spacingAndGlyphs">curing</tspan></text>
<path d="M547 341.5H576M590 341.5H619" stroke="#55BBFF" stroke-width="1" fill="none" shape-rendering="crispEdges"/>
<circle cx="583.0" cy="341.8" r="10.1" fill="#fff" stroke="#55BBFF" stroke-width="1"/>
<text y="351.9" font-size="27.3"><tspan x="623.6" textLength="58.4" lengthAdjust="spacingAndGlyphs">50%-</tspan><tspan x="681.7" textLength="41.0" lengthAdjust="spacingAndGlyphs">CO</tspan><tspan x="721.8" dy="6.5" font-size="17.5">2</tspan><tspan dy="-6.5"> </tspan><tspan x="737.1" textLength="74.9" lengthAdjust="spacingAndGlyphs">curing</tspan></text>
<path d="M547 385.5H576M590 385.5H619" stroke="#00FFFF" stroke-width="1" fill="none" shape-rendering="crispEdges"/>
<polygon points="583.0,376.1 591.2,391.3 574.8,391.3" fill="#00FFFF"/>
<text y="395.9" font-size="27.3"><tspan x="623.7" textLength="58.3" lengthAdjust="spacingAndGlyphs">75%-</tspan><tspan x="681.7" textLength="41.0" lengthAdjust="spacingAndGlyphs">CO</tspan><tspan x="721.8" dy="6.5" font-size="17.5">2</tspan><tspan dy="-6.5"> </tspan><tspan x="737.1" textLength="74.9" lengthAdjust="spacingAndGlyphs">curing</tspan></text>
<path d="M547 430.5H576M590 430.5H619" stroke="#00FFFF" stroke-width="1" fill="none" shape-rendering="crispEdges"/>
<g fill="none" stroke="#00FFFF" stroke-width="1"><polygon points="583.0,416.6 595.6,437.9 570.4,437.9"/><path d="M583.5 416.6V445.2M570.0 430.5H596.0" shape-rendering="crispEdges"/></g>
<text y="440.0" font-size="27.3"><tspan x="624.3" textLength="71.2" lengthAdjust="spacingAndGlyphs">100%-</tspan><tspan x="695.1" textLength="41.0" lengthAdjust="spacingAndGlyphs">CO</tspan><tspan x="735.2" dy="6.5" font-size="17.5">2</tspan><tspan dy="-6.5"> </tspan><tspan x="750.5" textLength="74.9" lengthAdjust="spacingAndGlyphs">curing</tspan></text>
</g>
<g id="lines">
<path d="M246.8 964.8L484.0 835.4M499.5 824.6L738.9 617.0M754.3 606.0L991.7 468.8M1009.1 461.7L1244.5 401.2" stroke="#000000" stroke-width="1.1" fill="none"/>
<rect x="232" y="963" width="12" height="12" fill="#000000" shape-rendering="crispEdges"/>
<rect x="486" y="825" width="12" height="12" fill="#000000" shape-rendering="crispEdges"/>
<rect x="740" y="605" width="12" height="12" fill="#000000" shape-rendering="crispEdges"/>
<rect x="994" y="458" width="12" height="12" fill="#000000" shape-rendering="crispEdges"/>
<rect x="1248" y="393" width="12" height="12" fill="#000000" shape-rendering="crispEdges"/>
<path d="M246.8 964.8L484.0 835.3M500.6 826.2L737.8 696.6M754.9 688.5L991.1 593.4M1008.9 586.8L1244.7 505.4" stroke="#000000" stroke-width="1.1" fill="none"/>
<rect x="232.5" y="963.5" width="11" height="11" fill="#fff" stroke="#000000" stroke-width="1" shape-rendering="crispEdges"/>
<rect x="486.5" y="825.5" width="11" height="11" fill="#fff" stroke="#000000" stroke-width="1" shape-rendering="crispEdges"/>
<rect x="740.5" y="686.5" width="11" height="11" fill="#fff" stroke="#000000" stroke-width="1" shape-rendering="crispEdges"/>
<rect x="994.5" y="584.5" width="11" height="11" fill="#fff" stroke="#000000" stroke-width="1" shape-rendering="crispEdges"/>
<rect x="1248.5" y="496.5" width="11" height="11" fill="#fff" stroke="#000000" stroke-width="1" shape-rendering="crispEdges"/>
<path d="M247.0 965.2L483.8 848.4M500.5 839.4L737.9 700.3M754.8 691.7L991.2 589.7M1009.1 583.4L1244.5 518.0" stroke="#0000FF" stroke-width="1.1" fill="none"/>
<polygon points="238.5,959.7 246.7,974.9 230.3,974.9" fill="#0000FF"/>
<polygon points="492.3,834.5 500.5,849.7 484.1,849.7" fill="#0000FF"/>
<polygon points="746.1,685.8 754.3,701.0 737.9,701.0" fill="#0000FF"/>
<polygon points="999.9,576.2 1008.1,591.4 991.7,591.4" fill="#0000FF"/>
<polygon points="1253.7,505.8 1261.9,521.0 1245.5,521.0" fill="#0000FF"/>
<path d="M247.4 965.9L483.4 874.5M500.6 866.4L737.8 732.1M755.0 724.2L991.0 639.9M1008.9 633.7L1244.7 556.5" stroke="#0000FF" stroke-width="1.1" fill="none"/>
<polygon points="238.5,960.6 246.0,974.4 231.0,974.4" fill="#fff" stroke="#0000FF" stroke-width="1"/>
<polygon points="492.3,862.3 499.8,876.1 484.8,876.1" fill="#fff" stroke="#0000FF" stroke-width="1"/>
<polygon points="746.1,718.6 753.6,732.4 738.6,732.4" fill="#fff" stroke="#0000FF" stroke-width="1"/>
<polygon points="999.9,627.9 1007.4,641.7 992.4,641.7" fill="#fff" stroke="#0000FF" stroke-width="1"/>
<polygon points="1253.7,544.7 1261.2,558.5 1246.2,558.5" fill="#fff" stroke="#0000FF" stroke-width="1"/>
<path d="M247.8 967.3L483.0 915.0M501.4 910.2L737.0 838.2M755.2 832.6L990.8 760.6M1009.2 756.0L1244.4 710.3" stroke="#A080FF" stroke-width="1.1" fill="none"/>
<polygon points="238.5,956.5 241.4,965.4 250.9,965.4 243.2,971.0 246.1,980.0 238.5,974.4 230.9,980.0 233.8,971.0 226.1,965.4 235.6,965.4" fill="#A080FF"/>
<polygon points="492.3,900.0 495.2,909.0 504.7,909.0 497.0,914.6 499.9,923.6 492.3,918.0 484.7,923.6 487.6,914.6 479.9,909.0 489.4,909.0" fill="#A080FF"/>
<polygon points="746.1,822.5 749.0,831.5 758.5,831.5 750.8,837.0 753.7,846.0 746.1,840.4 738.5,846.0 741.4,837.0 733.7,831.5 743.2,831.5" fill="#A080FF"/>
<polygon points="999.9,744.9 1002.8,753.9 1012.3,753.9 1004.6,759.4 1007.5,768.4 999.9,762.9 992.3,768.4 995.2,759.4 987.5,753.9 997.0,753.9" fill="#A080FF"/>
<polygon points="1253.7,695.6 1256.6,704.5 1266.1,704.5 1258.4,710.1 1261.3,719.1 1253.7,713.5 1246.1,719.1 1249.0,710.1 1241.3,704.5 1250.8,704.5" fill="#A080FF"/>
<path d="M246.9 964.8L483.9 836.7M500.7 827.7L737.7 699.6M754.8 691.2L991.2 586.0M1009.0 579.6L1244.6 512.2" stroke="#808000" stroke-width="1.1" fill="none"/>
<polygon points="238.5,962.3 240.4,967.3 245.8,967.6 241.6,971.0 243.0,976.2 238.5,973.3 234.0,976.2 235.4,971.0 231.2,967.6 236.6,967.3" fill="#fff" stroke="#808000" stroke-width="1"/>
<polygon points="492.3,825.1 494.2,830.2 499.6,830.4 495.4,833.8 496.8,839.1 492.3,836.1 487.8,839.1 489.2,833.8 485.0,830.4 490.4,830.2" fill="#fff" stroke="#808000" stroke-width="1"/>
<polygon points="746.1,688.0 748.0,693.0 753.4,693.3 749.2,696.7 750.6,701.9 746.1,699.0 741.6,701.9 743.0,696.7 738.8,693.3 744.2,693.0" fill="#fff" stroke="#808000" stroke-width="1"/>
<polygon points="999.9,575.1 1001.8,580.1 1007.2,580.4 1003.0,583.8 1004.4,589.0 999.9,586.1 995.4,589.0 996.8,583.8 992.6,580.4 998.0,580.1" fill="#fff" stroke="#808000" stroke-width="1"/>
<polygon points="1253.7,502.5 1255.6,507.5 1261.0,507.8 1256.8,511.2 1258.2,516.4 1253.7,513.5 1249.2,516.4 1250.6,511.2 1246.4,507.8 1251.8,507.5" fill="#fff" stroke="#808000" stroke-width="1"/>
<path d="M247.9 968.0L482.9 933.1M501.7 930.6L736.7 902.7M755.5 900.0L990.5 858.1M1009.3 855.4L1244.3 827.5" stroke="#55BBFF" stroke-width="1.1" fill="none"/>
<circle cx="238.5" cy="969.4" r="10.6" fill="#55BBFF"/>
<circle cx="492.3" cy="931.7" r="10.6" fill="#55BBFF"/>
<circle cx="746.1" cy="901.6" r="10.6" fill="#55BBFF"/>
<circle cx="999.9" cy="856.5" r="10.6" fill="#55BBFF"/>
<circle cx="1253.7" cy="826.4" r="10.6" fill="#55BBFF"/>
<path d="M247.9 968.2L482.9 940.0M501.8 938.0L736.6 916.9M755.4 914.1L990.6 864.7M1009.4 861.9L1244.2 840.7" stroke="#55BBFF" stroke-width="1.1" fill="none"/>
<circle cx="238.5" cy="969.4" r="10.1" fill="#fff" stroke="#55BBFF" stroke-width="1"/>
<circle cx="492.3" cy="938.9" r="10.1" fill="#fff" stroke="#55BBFF" stroke-width="1"/>
<circle cx="746.1" cy="916.0" r="10.1" fill="#fff" stroke="#55BBFF" stroke-width="1"/>
<circle cx="999.9" cy="862.7" r="10.1" fill="#fff" stroke="#55BBFF" stroke-width="1"/>
<circle cx="1253.7" cy="839.9" r="10.1" fill="#fff" stroke="#55BBFF" stroke-width="1"/>
<path d="M248.0 968.5L482.8 948.2M501.7 946.3L736.7 919.1M755.5 916.7L990.5 882.7M1009.3 880.3L1244.3 853.1" stroke="#00FFFF" stroke-width="1.1" fill="none"/>
<polygon points="238.5,959.7 246.7,974.9 230.3,974.9" fill="#00FFFF"/>
<polygon points="492.3,937.7 500.5,952.9 484.1,952.9" fill="#00FFFF"/>
<polygon points="746.1,908.3 754.3,923.5 737.9,923.5" fill="#00FFFF"/>
<polygon points="999.9,871.7 1008.1,886.9 991.7,886.9" fill="#00FFFF"/>
<polygon points="1253.7,842.4 1261.9,857.6 1245.5,857.6" fill="#00FFFF"/>
<path d="M248.0 968.5L482.8 947.1M501.8 945.4L736.6 924.1M755.4 921.5L990.6 878.8M1009.4 876.2L1244.2 854.9" stroke="#00FFFF" stroke-width="1.1" fill="none"/>
<g fill="none" stroke="#00FFFF" stroke-width="1"><polygon points="238.5,955.2 251.1,976.5 225.9,976.5"/><path d="M238.5 955.2V983.8M225.5 969.5H251.5" shape-rendering="crispEdges"/></g>
<g fill="none" stroke="#00FFFF" stroke-width="1"><polygon points="492.3,932.1 504.9,953.4 479.7,953.4"/><path d="M492.5 932.1V960.7M479.3 946.5H505.3" shape-rendering="crispEdges"/></g>
<g fill="none" stroke="#00FFFF" stroke-width="1"><polygon points="746.1,909.0 758.7,930.3 733.5,930.3"/><path d="M746.5 909.0V937.6M733.1 923.5H759.1" shape-rendering="crispEdges"/></g>
<g fill="none" stroke="#00FFFF" stroke-width="1"><polygon points="999.9,862.9 1012.5,884.2 987.3,884.2"/><path d="M999.5 862.9V891.5M986.9 877.5H1012.9" shape-rendering="crispEdges"/></g>
<g fill="none" stroke="#00FFFF" stroke-width="1"><polygon points="1253.7,839.8 1266.3,861.1 1241.1,861.1"/><path d="M1253.5 839.8V868.4M1240.7 853.5H1266.7" shape-rendering="crispEdges"/></g>
</g>
<g id="lineerr" fill="none" stroke-width="1" shape-rendering="crispEdges">
<path d="M492.5 821.5V824.8M492.5 836.8V841.5M482.0 821.5H503.0M482.0 841.5H503.0M746.5 599.5V604.7M746.5 616.7V622.5M736.0 599.5H757.0M736.0 622.5H757.0M999.5 454.5V458.0M999.5 470.0V474.5M989.0 454.5H1010.0M989.0 474.5H1010.0M1253.5 388.5V392.8M1253.5 404.8V409.5M1243.0 388.5H1264.0M1243.0 409.5H1264.0" stroke="#000000"/>
<path d="M492.5 821.5V824.7M492.5 836.7V841.5M482.0 821.5H503.0M482.0 841.5H503.0M746.5 682.5V686.1M746.5 698.1V702.5M736.0 682.5H757.0M736.0 702.5H757.0M999.5 580.5V583.9M999.5 595.9V599.5M989.0 580.5H1010.0M989.0 599.5H1010.0M1253.5 494.5V496.3M1253.5 508.3V510.5M1243.0 494.5H1264.0M1243.0 510.5H1264.0" stroke="#000000"/>
<path d="M492.5 849.7V855.5M482.0 834.5H503.0M482.0 855.5H503.0M746.5 684.5V685.8M746.5 701.0V707.5M736.0 684.5H757.0M736.0 707.5H757.0M999.5 591.4V594.5M989.0 578.5H1010.0M989.0 594.5H1010.0M1253.5 503.5V505.8M1253.5 521.0V528.5M1243.0 503.5H1264.0M1243.0 528.5H1264.0" stroke="#0000FF"/>
<path d="M492.5 861.5V861.8M492.5 876.6V881.5M482.0 861.5H503.0M482.0 881.5H503.0M746.5 716.5V718.1M746.5 732.9V738.5M736.0 716.5H757.0M736.0 738.5H757.0M999.5 625.5V627.4M999.5 642.2V649.5M989.0 625.5H1010.0M989.0 649.5H1010.0M1253.5 542.5V544.2M1253.5 559.0V565.5M1243.0 542.5H1264.0M1243.0 565.5H1264.0" stroke="#0000FF"/>
<path d="M482.0 904.5H503.0M482.0 922.5H503.0M736.0 828.5H757.0M736.0 842.5H757.0M989.0 748.5H1010.0M989.0 767.5H1010.0M1253.5 719.1V719.5M1243.0 697.5H1264.0M1243.0 719.5H1264.0" stroke="#A080FF"/>
<path d="M492.5 821.5V824.9M492.5 839.2V844.5M482.0 821.5H503.0M482.0 844.5H503.0M746.5 702.1V703.5M736.0 688.5H757.0M736.0 703.5H757.0M999.5 572.5V574.9M999.5 589.2V592.5M989.0 572.5H1010.0M989.0 592.5H1010.0M1253.5 498.5V502.3M1253.5 516.6V521.5M1243.0 498.5H1264.0M1243.0 521.5H1264.0" stroke="#808000"/>
<path d="M492.5 942.3V942.5M482.0 921.5H503.0M482.0 942.5H503.0M746.5 912.2V912.5M736.0 891.5H757.0M736.0 912.5H757.0M999.5 867.1V867.5M989.0 846.5H1010.0M989.0 867.5H1010.0M1253.5 837.0V837.5M1243.0 816.5H1264.0M1243.0 837.5H1264.0" stroke="#55BBFF"/>
<path d="M492.5 949.5V949.5M482.0 929.5H503.0M482.0 949.5H503.0M736.0 906.5H757.0M736.0 926.5H757.0M999.5 873.3V873.5M989.0 852.5H1010.0M989.0 873.5H1010.0M1253.5 850.5V851.5M1243.0 829.5H1264.0M1243.0 851.5H1264.0" stroke="#55BBFF"/>
<path d="M492.5 952.9V957.5M482.0 938.5H503.0M482.0 957.5H503.0M746.5 923.5V927.5M736.0 909.5H757.0M736.0 927.5H757.0M999.5 871.5V871.7M999.5 886.9V891.5M989.0 871.5H1010.0M989.0 891.5H1010.0M1253.5 857.6V862.5M1243.0 842.5H1264.0M1243.0 862.5H1264.0" stroke="#00FFFF"/>
<path d="M482.0 937.5H503.0M482.0 956.5H503.0M736.0 914.5H757.0M736.0 933.5H757.0M989.0 867.5H1010.0M989.0 887.5H1010.0M1243.0 844.5H1264.0M1243.0 864.5H1264.0" stroke="#00FFFF"/>
</g>
</svg>
</body></html>
